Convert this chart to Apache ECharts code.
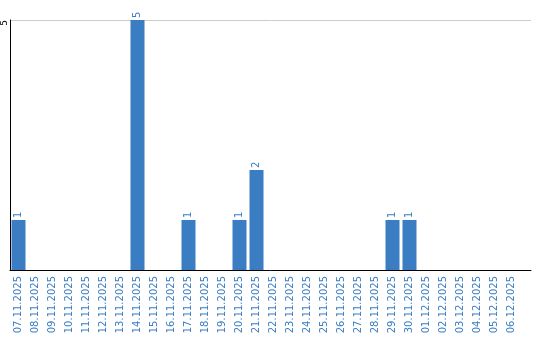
<!DOCTYPE html>
<html>
<head>
<meta charset="utf-8">
<script src="https://cdn.jsdelivr.net/npm/echarts@6/dist/echarts.min.js"></script>
<style>html,body{margin:0;padding:0;background:#fff}#c{width:540px;height:340px}</style>
</head>
<body>
<div id="c"></div>
<script>
const categories = ["07.11.2025","08.11.2025","09.11.2025","10.11.2025","11.11.2025","12.11.2025","13.11.2025","14.11.2025","15.11.2025","16.11.2025","17.11.2025","18.11.2025","19.11.2025","20.11.2025","21.11.2025","22.11.2025","23.11.2025","24.11.2025","25.11.2025","26.11.2025","27.11.2025","28.11.2025","29.11.2025","30.11.2025","01.12.2025","02.12.2025","03.12.2025","04.12.2025","05.12.2025","06.12.2025"];
const counts = [1,0,0,0,0,0,0,5,0,0,1,0,0,1,2,0,0,0,0,0,0,0,1,1,0,0,0,0,0,0];
const yTicks = [0,5];

const blue = '#3a7dc2';
const chart = echarts.init(document.getElementById('c'), null, {renderer:'canvas'});
chart.setOption({
  animation:false,
  grid:[
    {left:10, top:20, width:510, height:250},
    {left:10, top:20, width:521, height:250}
  ],
  xAxis:[
    {type:'category', gridIndex:0, data:categories,
     axisLine:{show:false}, axisTick:{show:false},
     axisLabel:{interval:0, rotate:90, color:blue, fontSize:10, fontFamily:'DejaVu Sans', margin:6}},
    {type:'value', gridIndex:1, min:0, max:1,
     axisLine:{show:true, lineStyle:{color:'#000', width:1}}, axisTick:{show:false},
     axisLabel:{show:false}, splitLine:{show:false}}
  ],
  yAxis:[
    {type:'value', gridIndex:0, min:yTicks[0], max:yTicks[1], show:false},
    {type:'value', gridIndex:1, min:yTicks[0], max:yTicks[1], interval:5,
     axisLine:{show:true, lineStyle:{color:'#000', width:1}}, axisTick:{show:false},
     axisLabel:{rotate:90, fontSize:9, color:'#000', fontFamily:'DejaVu Sans', margin:5,
       align:'right', verticalAlign:'middle',
       formatter:v=>v===0?'':String(v)},
     splitLine:{show:true, lineStyle:{color:'#cccccc', width:1}}}
  ],
  series:[{
    type:'bar', xAxisIndex:0, yAxisIndex:0, data:counts, barWidth:14,
    itemStyle:{color:blue},
    label:{show:true, position:'top', rotate:90, align:'left', verticalAlign:'middle',
      distance:2, color:blue, fontSize:10, fontFamily:'DejaVu Sans',
      formatter:p=>p.value===0?'':String(p.value)}
  }]
});
</script>
</body>
</html>
